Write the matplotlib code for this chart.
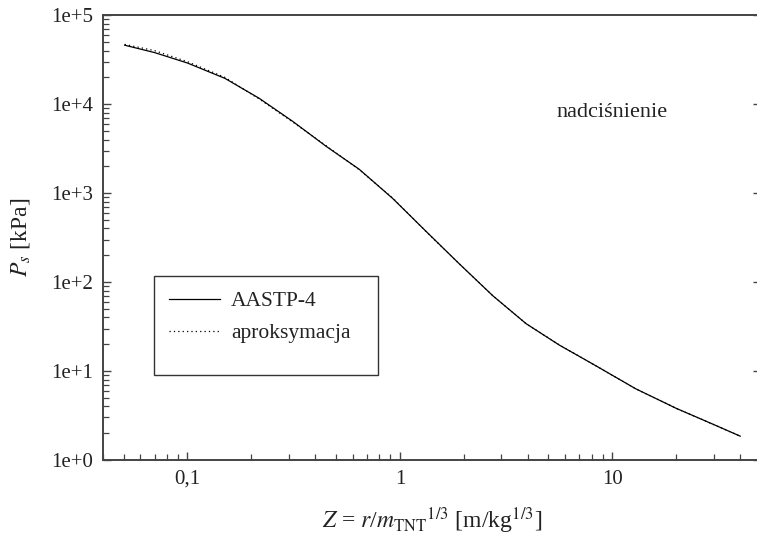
import numpy as np
import matplotlib.pyplot as plt
from matplotlib.patches import Rectangle
from matplotlib.ticker import FixedLocator, LogLocator, NullFormatter

plt.rcParams['font.family'] = ['Liberation Serif', 'DejaVu Serif']
plt.rcParams['mathtext.fontset'] = 'stix'

# AASTP-4 curve (Z [m/kg^1/3], Ps [kPa])
z_aastp = [0.0506, 0.07, 0.1, 0.15, 0.218, 0.313, 0.45, 0.644, 0.925, 1.33, 1.905, 2.74, 3.93, 5.64, 8.08, 12.9, 20, 30, 40]
p_aastp = [46000, 38000, 29000, 19500, 11600, 6400, 3350, 1850, 870, 370, 160, 70, 34, 19.5, 12, 6.3, 3.8, 2.5, 1.85]

# approximation (dotted), sits a hair above the solid line at small Z
z_aprox = [0.0506, 0.07, 0.1, 0.15, 0.218, 0.313, 0.45, 0.644, 0.925, 1.33, 1.905, 2.74, 3.93, 5.64, 8.08, 12.9, 20, 30, 40]
p_aprox = [47000, 40000, 30000, 20000, 11400, 6300, 3400, 1830, 880, 368, 160, 70, 34, 19.6, 12, 6.3, 3.8, 2.5, 1.85]

x_ticks = [0.1, 1, 10]
x_labels = ['0,1', '1', '10']
y_ticks = [1, 10, 100, 1000, 10000, 100000]
y_labels = ['1e+0', '1e+1', '1e+2', '1e+3', '1e+4', '1e+5']

fig = plt.figure(figsize=(7.57, 5.43), dpi=100)
ax = fig.add_axes([0.136, 0.153, 0.869, 0.819])

ax.plot(z_aastp, p_aastp, color='black', lw=0.9, label='AASTP-4')
ax.plot(z_aprox, p_aprox, color='black', lw=0.9, ls=(0, (1, 2.5)), label='aproksymacja')

ax.set_xscale('log')
ax.set_yscale('log')
ax.set_xlim(0.04, 50)
ax.set_ylim(1, 100000)

ax.xaxis.set_major_locator(FixedLocator(x_ticks))
ax.set_xticklabels(x_labels)
ax.xaxis.set_minor_locator(LogLocator(base=10, subs=np.arange(2, 10)))
ax.xaxis.set_minor_formatter(NullFormatter())
ax.yaxis.set_major_locator(FixedLocator(y_ticks))
ax.set_yticklabels(y_labels)
ax.yaxis.set_minor_locator(LogLocator(base=10, subs=np.arange(2, 10)))
ax.yaxis.set_minor_formatter(NullFormatter())

spine_col = '#444444'
for s in ['left', 'bottom', 'top']:
    ax.spines[s].set_color(spine_col)
    ax.spines[s].set_linewidth(1.4)
ax.spines['right'].set_visible(False)

ax.tick_params(which='both', direction='in', colors=spine_col, labelcolor='#222222', labelsize=15, top=False)
ax.tick_params(which='major', length=6, width=1.0, right=True)
ax.tick_params(which='minor', length=4, width=0.9, right=False)
ax.tick_params(axis='x', pad=7)
ax.tick_params(axis='y', pad=7)

ax.set_xlabel(r'$Z$ = $r$/$m_{\mathrm{TNT}}$$^{1/3}$ [m/kg$^{1/3}$]', fontsize=17, color='#222222', labelpad=12)
ax.set_ylabel(r'$P_s$ [kPa]', fontsize=17, color='#222222', labelpad=14)

ax.text(10, 8000, 'nadciśnienie', fontsize=16, ha='center', va='center', color='#222222')

# legend box drawn separately, entries placed inside it
ax.add_patch(Rectangle((0.0775, 0.191), 0.340, 0.2225, transform=ax.transAxes,
                       fill=False, edgecolor='#333333', lw=1.0, zorder=5))
leg = ax.legend(loc='upper left', bbox_to_anchor=(0.100, 0.379), frameon=False,
                fontsize=15.5, handlelength=2.4, borderpad=0, labelspacing=0.54,
                handletextpad=0.5, borderaxespad=0)
for t in leg.get_texts():
    t.set_color('#222222')

fig.savefig('out.png', dpi=100)
